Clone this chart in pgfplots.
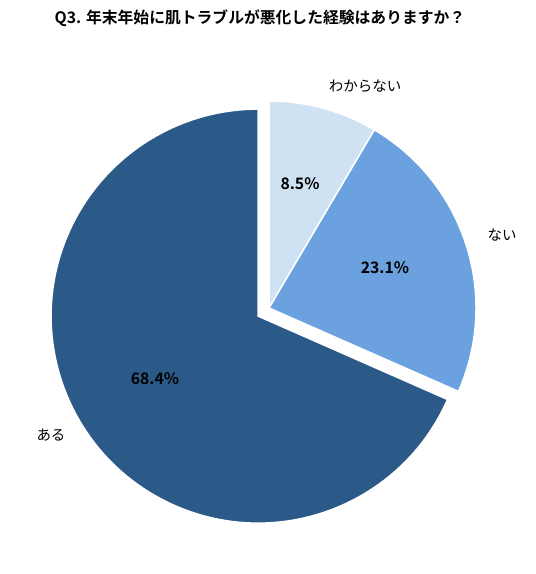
\documentclass[border=0pt]{standalone}
\usepackage{fontspec}
\setmainfont{Noto Sans CJK JP}[BoldFont={Noto Sans CJK JP Bold}]
\usepackage{pgfplots}
\usepackage{pgfplotstable}
\pgfplotsset{compat=1.18}
\definecolor{cUnknown}{HTML}{CFE2F3}
\definecolor{cNo}{HTML}{6AA1DE}
\definecolor{cYes}{HTML}{2C5A88}

% share of answers, in percent, clockwise from 12 o'clock
\pgfplotstableread{
key value
unknown 8.5
no 23.1
yes 68.4
}\piedata

\begin{document}
\begin{tikzpicture}
\pgfplotstablegetelem{0}{value}\of\piedata \let\vA\pgfplotsretval
\pgfplotstablegetelem{1}{value}\of\piedata \let\vB\pgfplotsretval
\pgfplotstablegetelem{2}{value}\of\piedata \let\vC\pgfplotsretval
\pgfmathsetmacro\aA{90}
\pgfmathsetmacro\aB{\aA-3.6*\vA}
\pgfmathsetmacro\aC{\aB-3.6*\vB}
\pgfmathsetmacro\aD{\aC-3.6*\vC}
\pgfmathsetmacro\aMid{(\aC+\aD)/2}
\def\rad{207}
\begin{axis}[
    x=1pt, y=1pt,
    xmin=0, xmax=536, ymin=0, ymax=574,
    scale only axis,
    hide axis,
    clip=false,
]
\path (axis cs:0,0) rectangle (axis cs:536,574);
% slices (centre of pie at 269,266 in axis units)
\filldraw[fill=cUnknown, draw=white, line width=1.5pt]
    (axis cs:269,266) -- ++(\aA:\rad pt) arc[start angle=\aA, end angle=\aB, radius=\rad pt] -- cycle;
\filldraw[fill=cNo, draw=white, line width=1.5pt]
    (axis cs:269,266) -- ++(\aB:\rad pt) arc[start angle=\aB, end angle=\aC, radius=\rad pt] -- cycle;
% exploded slice
\filldraw[fill=cYes, draw=white, line width=1.5pt, shift={(\aMid:13pt)}]
    (axis cs:269,265) -- ++(\aC:\rad pt) arc[start angle=\aC, end angle=\aD, radius=\rad pt] -- cycle;

% title
\node[font=\bfseries\fontsize{15.8}{18}\selectfont] at (axis cs:260,556)
    {Q3. 年末年始に肌トラブルが悪化した経験はありますか？};
% category labels
\node[font=\fontsize{14.5}{16}\selectfont] at (axis cs:365,488) {わからない};
\node[font=\fontsize{14.5}{16}\selectfont] at (axis cs:502,339) {ない};
\node[font=\fontsize{14.5}{16}\selectfont] at (axis cs:51,139) {ある};
% value labels
\node[font=\bfseries\fontsize{15.8}{18}\selectfont] at (axis cs:300,390) {\vA\%};
\node[font=\bfseries\fontsize{15.8}{18}\selectfont] at (axis cs:385,306) {\vB\%};
\node[font=\bfseries\fontsize{15.8}{18}\selectfont] at (axis cs:155,195) {\vC\%};
\end{axis}
\end{tikzpicture}
\end{document}
